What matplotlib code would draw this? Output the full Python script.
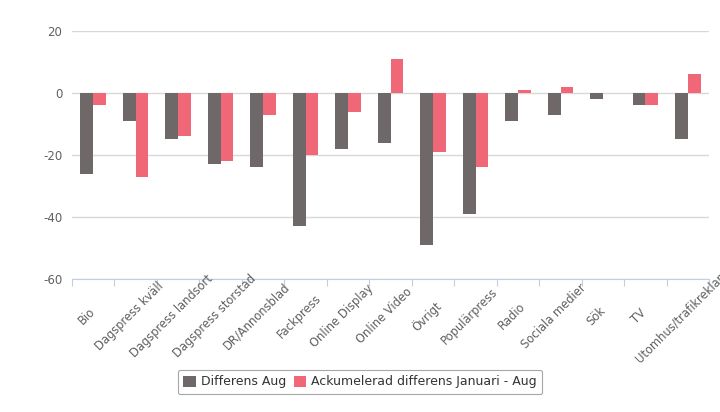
import matplotlib
matplotlib.use('Agg')
import matplotlib.pyplot as plt
import matplotlib.transforms as mtransforms
import numpy as np

# Data
categories = ['Bio', 'Dagspress kväll', 'Dagspress landsort', 'Dagspress storstad',
              'DR/Annonsblad', 'Fackpress', 'Online Display', 'Online Video', 'Övrigt',
              'Populärpress', 'Radio', 'Sociala medier', 'Sök', 'TV', 'Utomhus/trafikreklam']
diff_aug = [-26, -9, -15, -23, -24, -43, -18, -16, -49, -39, -9, -7, -2, -4, -15]
acc_diff = [-4, -27, -14, -22, -7, -20, -6, 11, -19, -24, 1, 2, 0, -4, 6]
y_ticks = [-60, -40, -20, 0, 20]

grey = '#6f6868'
pink = '#f06878'
text_col = '#606060'

fig = plt.figure(figsize=(7.2, 4.12), dpi=100)
ax = fig.add_axes([0.1, 0.3228, 0.885, 0.602])

x = np.arange(len(categories))
w = 0.3
ax.bar(x - w / 2, diff_aug, width=w, color=grey, label='Differens Aug', zorder=3)
ax.bar(x + w / 2, acc_diff, width=w, color=pink,
       label='Ackumelerad differens Januari - Aug', zorder=3)

ax.set_xlim(-0.5, len(categories) - 0.5)
ax.set_ylim(-60, 20)
ax.set_yticks(y_ticks)
ax.set_yticklabels([str(v) for v in y_ticks])
ax.yaxis.grid(True, color='#d8d8d8', linewidth=1, zorder=0)
ax.tick_params(axis='y', length=0, labelsize=8.5, labelcolor=text_col, pad=7)

# tick marks at category boundaries, labels centred below each category
ax.set_xticks(np.arange(-0.5, len(categories) + 0.5, 1))
ax.set_xticklabels([])
ax.tick_params(axis='x', length=5, color='#c0d0e0', direction='out')

trans = mtransforms.blended_transform_factory(ax.transData, fig.transFigure)
for i, name in enumerate(categories):
    ax.text(i - 0.15, 0.233, name, transform=trans, rotation=45,
            ha='center', va='center', rotation_mode='anchor',
            fontsize=8.3, color=text_col, clip_on=False)

for s in ['top', 'right', 'left']:
    ax.spines[s].set_visible(False)
ax.spines['bottom'].set_color('#c0d0e0')

leg = fig.legend(loc='center', bbox_to_anchor=(0.5, 0.073), ncol=2, fontsize=9,
                 frameon=True, fancybox=True, handlelength=1.0, handleheight=1.0,
                 handletextpad=0.4, columnspacing=0.6, borderpad=0.45)
leg.get_frame().set_edgecolor('#909090')
leg.get_frame().set_linewidth(0.8)
for t in leg.get_texts():
    t.set_color('#333333')

fig.savefig('out.png', dpi=100)
